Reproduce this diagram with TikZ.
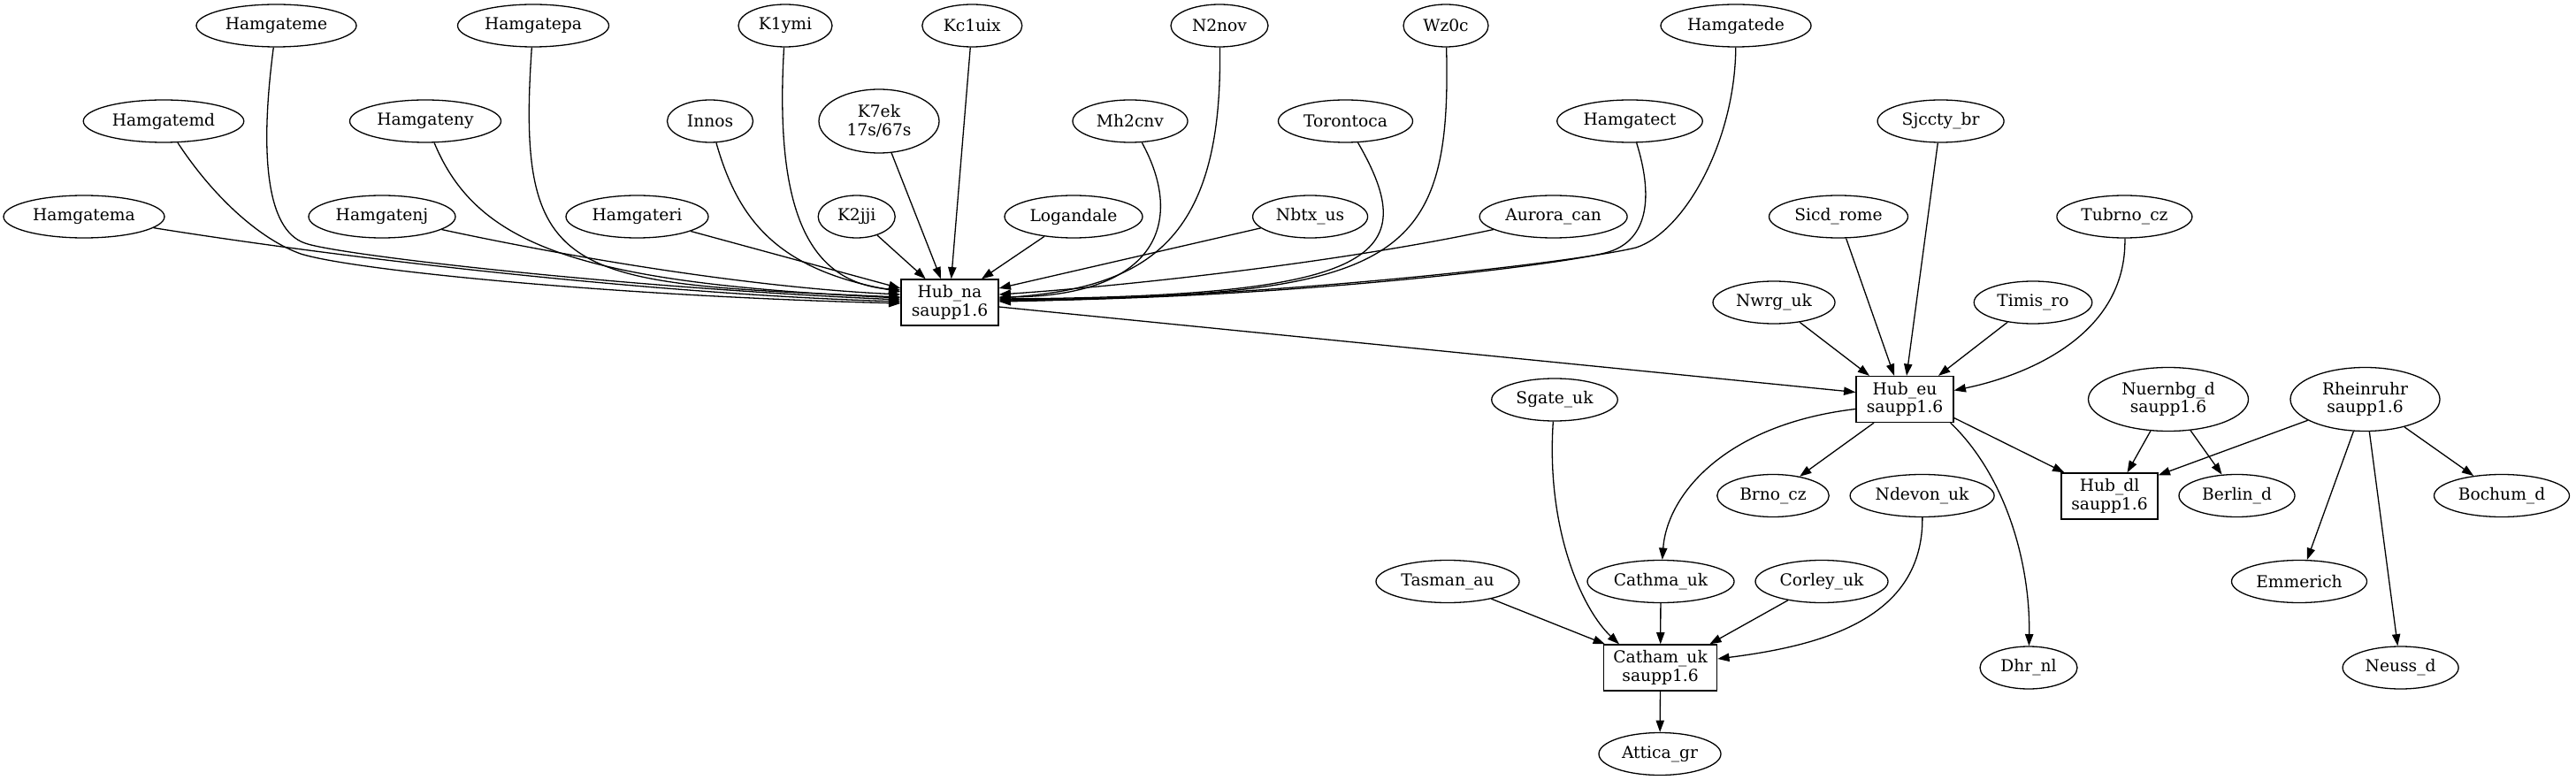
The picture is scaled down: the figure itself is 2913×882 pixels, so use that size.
\documentclass[tikz,border=0pt]{standalone}
\usepackage{fontspec}
\setmainfont{DejaVu Serif}
\usetikzlibrary{shapes.geometric,arrows.meta,calc}
\newcommand\gvfont{\fontsize{18.67pt}{20.5pt}\selectfont}
\tikzset{
  ell/.style={ellipse, draw, line width=1.3pt, inner sep=0pt, minimum height=48pt, font=\gvfont, align=center},
  hubbox/.style={rectangle, draw, line width=1.3pt, inner sep=0pt, minimum width=110pt, minimum height=52pt, font=\gvfont, align=center},
  edge/.style={line width=1.3pt, -{Triangle[length=13.3pt,width=9.3pt]}},
}
\begin{document}
\begin{tikzpicture}[x=1pt,y=-1pt]
\fill[white] (0,0) rectangle (2913,882);
\useasboundingbox (0,0) rectangle (2913,882);
% rank 0
\node[ell, minimum width=181pt] (hamgateme) at (312.5,29) {Hamgateme};
\node[ell, minimum width=171pt] (hamgatepa) at (603,29) {Hamgatepa};
\node[ell, minimum width=106pt] (k1ymi) at (888,29) {K1ymi};
\node[ell, minimum width=113pt] (kc1uix) at (1099.3,29) {Kc1uix};
\node[ell, minimum width=110pt] (n2nov) at (1379,29) {N2nov};
\node[ell, minimum width=96pt] (wz0c) at (1635,29) {Wz0c};
\node[ell, minimum width=170pt] (hamgatede) at (1963,29) {Hamgatede};
% rank 1
\node[ell, minimum width=181.5pt] (hamgatemd) at (185,137) {Hamgatemd};
\node[ell, minimum width=171pt] (hamgateny) at (481,137) {Hamgateny};
\node[ell, minimum width=97pt] (innos) at (803,137) {Innos};
\node[ell, minimum width=136pt, minimum height=72pt] (k7ek) at (994,137) {K7ek\\17s/67s};
\node[ell, minimum width=130pt] (mh2cnv) at (1278,137) {Mh2cnv};
\node[ell, minimum width=152pt] (torontoca) at (1521.5,137) {Torontoca};
\node[ell, minimum width=164.5pt] (hamgatect) at (1843,137) {Hamgatect};
\node[ell, minimum width=143pt] (sjccty) at (2194.6,137) {Sjccty\_br};
% rank 2
\node[ell, minimum width=182pt] (hamgatema) at (95,245) {Hamgatema};
\node[ell, minimum width=166pt] (hamgatenj) at (432,245) {Hamgatenj};
\node[ell, minimum width=161pt] (hamgateri) at (720.5,245) {Hamgateri};
\node[ell, minimum width=87pt] (k2jji) at (968.7,245) {K2jji};
\node[ell, minimum width=156pt] (logandale) at (1214,245) {Logandale};
\node[ell, minimum width=130pt] (nbtx) at (1481.6,245) {Nbtx\_us};
\node[ell, minimum width=167pt] (aurora) at (1756.6,245) {Aurora\_can};
\node[ell, minimum width=157pt] (sicd) at (2079,245) {Sicd\_rome};
\node[ell, minimum width=153pt] (tubrno) at (2402.4,245) {Tubrno\_cz};
% rank 3
\node[hubbox] (hubna) at (1074,342) {Hub\_na\\saupp1.6};
\node[ell, minimum width=138pt] (nwrg) at (2006,342) {Nwrg\_uk};
\node[ell, minimum width=133.5pt] (timis) at (2299,342) {Timis\_ro};
% rank 4
\node[hubbox] (hubeu) at (2154,451.5) {Hub\_eu\\saupp1.6};
\node[ell, minimum width=142.5pt] (sgate) at (1758,452) {Sgate\_uk};
\node[ell, minimum width=181pt, minimum height=72pt] (nuernbg) at (2452,451.5) {Nuernbg\_d\\saupp1.6};
\node[ell, minimum width=169pt, minimum height=72pt] (rheinruhr) at (2674.5,451.5) {Rheinruhr\\saupp1.6};
% rank 5
\node[ell, minimum width=126.5pt] (brno) at (2005,560.5) {Brno\_cz};
\node[ell, minimum width=163pt] (ndevon) at (2173.6,560.5) {Ndevon\_uk};
\node[hubbox, minimum width=109pt] (hubdl) at (2385.5,561) {Hub\_dl\\saupp1.6};
\node[ell, minimum width=131pt] (berlin) at (2529.5,560.5) {Berlin\_d};
\node[ell, minimum width=153pt] (bochum) at (2829,560.5) {Bochum\_d};
% rank 6
\node[ell, minimum width=162pt] (tasman) at (1637,657.5) {Tasman\_au};
\node[ell, minimum width=166pt] (cathma) at (1878,657.5) {Cathma\_uk};
\node[ell, minimum width=150pt] (corley) at (2060,657.5) {Corley\_uk};
\node[ell, minimum width=153pt] (emmerich) at (2600,657.5) {Emmerich};
% rank 7
\node[hubbox, minimum width=128pt] (catham) at (1877.6,755) {Catham\_uk\\saupp1.6};
\node[ell, minimum width=110pt] (dhr) at (2294,755) {Dhr\_nl};
\node[ell, minimum width=131pt] (neuss) at (2714.6,755) {Neuss\_d};
% rank 8
\node[ell, minimum width=138pt] (attica) at (1877,852.5) {Attica\_gr};

% ---- edges into Hub_na (left side)
\draw[edge] (hamgatema) .. controls (400,294) and (750,333) .. ($(hubna.west)+(0,-1)$);
\draw[edge] (hamgatemd) .. controls (242,224) and (295,271) .. (340,287)
  .. controls (400,306) and (700,335) .. ($(hubna.west)+(0,1)$);
\draw[edge] (hamgateme) .. controls (294,170) and (300,260) .. (345,275)
  .. controls (380,288) and (700,325) .. ($(hubna.west)+(0,-3)$);
\draw[edge] (hamgatenj) .. controls (650,292) and (850,325) .. ($(hubna.west)+(0,-9)$);
\draw[edge] (hamgateny) .. controls (540,280) and (660,320) .. ($(hubna.west)+(0,-5)$);
\draw[edge] (hamgatepa) .. controls (583,320) and (640,320) .. ($(hubna.west)+(0,-6)$);
\draw[edge] (hamgateri) -- ($(hubna.west)+(0,-16)$);
\draw[edge] (innos) .. controls (835,250) and (880,305) .. ($(hubna.west)+(0,-12)$);
\draw[edge] (k1ymi) .. controls (875,250) and (920,320) .. ($(hubna.west)+(0,-14)$);
% top
\draw[edge] (k2jji) -- ($(hubna.north)+(-27.3,0)$);
\draw[edge] (k7ek) -- ($(hubna.north)+(-10,0)$);
\draw[edge] (kc1uix) -- ($(hubna.north)+(1.7,0)$);
\draw[edge] (logandale) -- ($(hubna.north)+(36,0)$);
% right side
\draw[edge] (nbtx) -- ($(hubna.east)+(0,-16)$);
\draw[edge] (aurora) .. controls (1500,300) and (1250,325) .. ($(hubna.east)+(0,-9)$);
\draw[edge] (mh2cnv) .. controls (1340,250) and (1310,335) .. ($(hubna.east)+(0,-6)$);
\draw[edge] (n2nov) .. controls (1383,270) and (1300,325) .. ($(hubna.east)+(0,-5)$);
\draw[edge] (torontoca) .. controls (1610,290) and (1560,335) .. ($(hubna.east)+(0,-4)$);
\draw[edge] (wz0c) .. controls (1642,300) and (1580,335) .. ($(hubna.east)+(0,-3)$);
\draw[edge] (hamgatect) .. controls (1872,230) and (1860,275) .. (1815,286)
  .. controls (1760,300) and (1450,338) .. ($(hubna.east)+(0,-2)$);
\draw[edge] (hamgatede) .. controls (1962,160) and (1905,262) .. (1850,280)
  .. controls (1780,297) and (1450,335) .. ($(hubna.east)+(0,-1)$);
% Hub_na -> Hub_eu
\draw[edge] ($(hubna.east)+(0,5)$) -- ($(hubeu.west)+(0,-8)$);
% into Hub_eu
\draw[edge] (nwrg) -- ($(hubeu.north)+(-40,0)$);
\draw[edge] (sicd) -- ($(hubeu.north)+(-12,0)$);
\draw[edge] (sjccty) -- ($(hubeu.north)+(2,0)$);
\draw[edge] (timis) -- ($(hubeu.north)+(38,0)$);
\draw[edge] (tubrno) .. controls (2405,380) and (2290,425) .. ($(hubeu.east)+(0,-10)$);
% out of Hub_eu
\draw[edge] ($(hubeu.west)+(0,11)$) .. controls (1950,480) and (1885,560) .. (cathma);
\draw[edge] ($(hubeu.south)+(-35,0)$) -- (brno);
\draw[edge] ($(hubeu.south east)+(-4,0)$) .. controls (2270,540) and (2296,640) .. (dhr);
\draw[edge] ($(hubeu.east)+(0,21)$) -- ($(hubdl.north west)+(4,0)$);
% Hub_dl and German nodes
\draw[edge] (nuernbg) -- ($(hubdl.north)+(20,0)$);
\draw[edge] (rheinruhr) -- ($(hubdl.north east)+(0,3)$);
\draw[edge] (nuernbg) -- (berlin);
\draw[edge] (rheinruhr) -- (bochum);
\draw[edge] (rheinruhr) -- (emmerich);
\draw[edge] (rheinruhr) -- (neuss);
% Catham_uk
\draw[edge] (sgate) .. controls (1748,600) and (1790,690) .. ($(catham.north west)+(18,0)$);
\draw[edge] (tasman) -- ($(catham.north west)+(2,0)$);
\draw[edge] (cathma) -- (catham);
\draw[edge] (corley) -- ($(catham.north east)+(-9,0)$);
\draw[edge] (ndevon) .. controls (2175,700) and (2060,730) .. ($(catham.east)+(0,-10)$);
\draw[edge] (catham) -- (attica);
\end{tikzpicture}
\end{document}
